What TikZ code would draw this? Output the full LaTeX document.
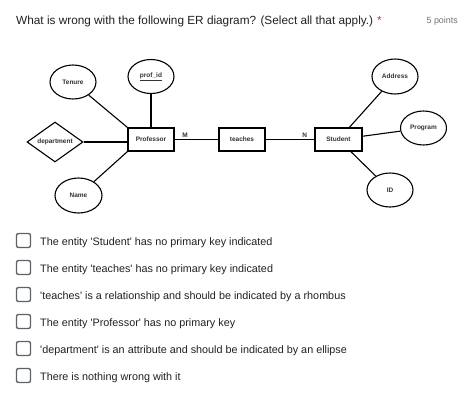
\documentclass[tikz,border=0pt]{standalone}
\usepackage{fontspec}
\setmainfont{Liberation Sans}
\usetikzlibrary{shapes.geometric}
\definecolor{txt}{HTML}{202124}
\definecolor{boxgray}{HTML}{5F6368}
\definecolor{pts}{HTML}{70757A}
\definecolor{req}{HTML}{D93025}
\definecolor{dtxt}{HTML}{333333}
\newcommand{\sq}{\textquotesingle}
\begin{document}
\begin{tikzpicture}[x=1pt,y=-1pt,
  dfont/.style={font=\fontsize{6.5}{7}\selectfont\bfseries,text=dtxt},
  attr/.style={ellipse,draw,line width=1.1pt,minimum width=46pt,minimum height=34pt,inner sep=0pt,dfont},
  ent/.style={rectangle,draw,line width=1.1pt,minimum width=46pt,minimum height=23pt,inner sep=0pt,dfont},
  rel/.style={diamond,draw,line width=1.1pt,minimum width=56pt,minimum height=40pt,inner sep=0pt},
  conn/.style={line width=1.1pt},
  card/.style={dfont,inner sep=1pt},
  cbox/.style={draw=boxgray,line width=1.4pt,rounded corners=2pt,minimum size=14pt,inner sep=0pt},
  opt/.style={anchor=base west,font=\fontsize{10.8}{13}\selectfont,text=txt,inner sep=0pt},
]
\useasboundingbox[fill=white] (0,0) rectangle (474,405);

% header
\node[anchor=base west,inner sep=0pt,font=\fontsize{11.8}{14}\selectfont,text=txt] (title) at (16,24)
  {What is wrong with the following ER diagram? (Select all that apply.)};
\node[anchor=base west,inner sep=0pt,font=\fontsize{11.8}{14}\selectfont,text=req] (star) at (377,24) {*};
\node[anchor=base east,inner sep=0pt,font=\fontsize{8.9}{10}\selectfont,text=pts] (points) at (458,23) {5 points};

% diagram
\node[attr] (tenure) at (73,82) {Tenure};
\node[attr] (profid) at (151,76.5) {\underline{prof\_id}};
\node[rel,label={[dfont]center:department}] (dept) at (55,142) {};
\node[ent] (prof) at (151,139.5) {Professor};
\node[attr,minimum width=47pt,minimum height=35pt] (name) at (78.5,195.5) {Name};
\node[ent] (teaches) at (242,139.5) {teaches};
\node[ent,minimum width=47pt] (student) at (338.5,139.5) {Student};
\node[attr,minimum height=35pt] (address) at (395,76.5) {Address};
\node[attr] (program) at (423.5,128) {Program};
\node[attr] (id) at (390,190) {ID};

\draw[conn] (tenure) -- (prof.north west);
\draw[conn] (profid.south) -- (prof.north);
\draw[conn] (dept.east) -- (dept.east -| prof.west);
\draw[conn] (name) -- (prof.south west);
\draw[conn] (prof) -- node[card,above,pos=0.24] {M} (teaches);
\draw[conn] (teaches) -- node[card,above,pos=0.8] {N} (student);
\draw[conn] (student) -- (address);
\draw[conn] (student) -- (program);
\draw[conn] (student) -- (id);

% options
\foreach \i/\t in {0/{The entity \sq Student\sq{} has no primary key indicated},
                   1/{The entity \sq teaches\sq{} has no primary key indicated},
                   2/{\sq teaches\sq{} is a relationship and should be indicated by a rhombus},
                   3/{The entity \sq Professor\sq{} has no primary key},
                   4/{\sq department\sq{} is an attribute and should be indicated by an ellipse},
                   5/{There is nothing wrong with it}} {
  \node[cbox] (cb\i) at (23.5,240.5+27*\i) {};
  \node[opt] (op\i) at (40,245+27*\i) {\t};
}
\end{tikzpicture}
\end{document}
